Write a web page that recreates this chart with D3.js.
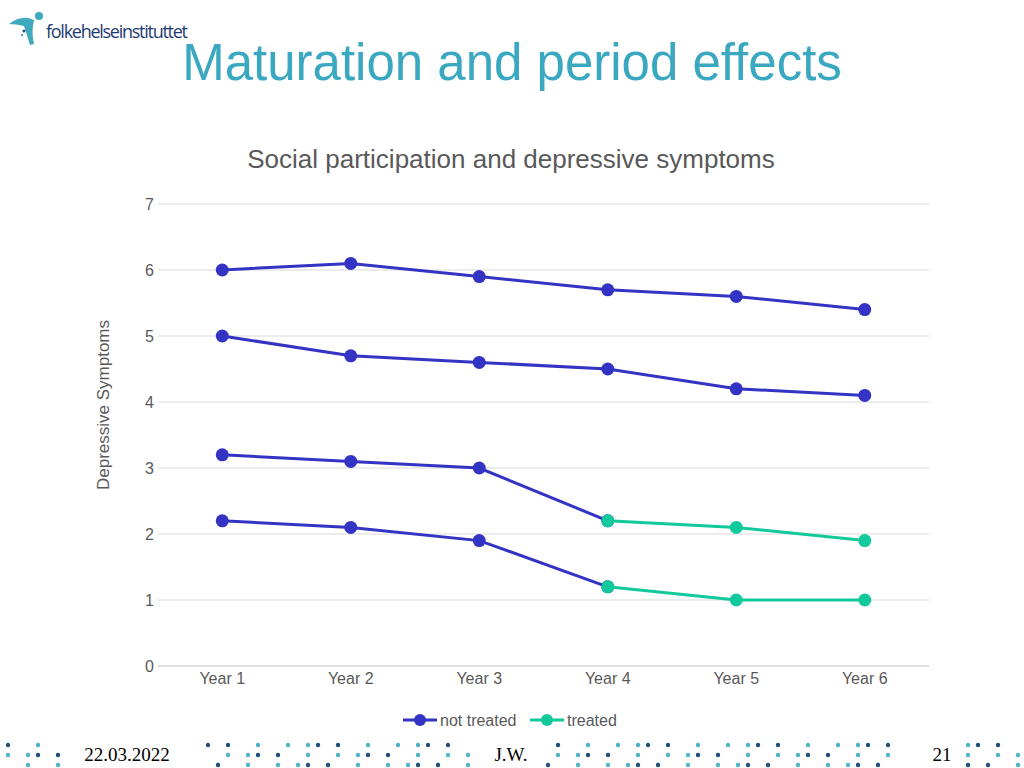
<!DOCTYPE html>
<html><head><meta charset="utf-8">
<script src="https://cdn.jsdelivr.net/npm/d3@7"></script>
<style>body{margin:0;background:#fff}svg{display:block;font-family:"Liberation Sans",Arial,sans-serif}</style>
</head><body>
<svg id="c" width="1024" height="768"></svg>
<script>
const years = ['Year 1', 'Year 2', 'Year 3', 'Year 4', 'Year 5', 'Year 6']
const yTicks = [0, 1, 2, 3, 4, 5, 6, 7]
// null = no value for that year
const notTreated = [
	[6.0, 6.1, 5.9, 5.7, 5.6, 5.4],
	[5.0, 4.7, 4.6, 4.5, 4.2, 4.1],
	[3.2, 3.1, 3.0, 2.2, null, null],
	[2.2, 2.1, 1.9, 1.2, null, null],
]
const treated = [
	[null, null, null, 2.2, 2.1, 1.9],
	[null, null, null, 1.2, 1.0, 1.0],
]
const blue = '#3333c4', green = '#11c99a'

const svg = d3.select('#c')
const x = d3.scaleBand().domain(years).range([158, 929])
const y = d3.scaleLinear().domain([0, 7]).range([666, 204])
const cx = d => x(d) + x.bandwidth() / 2

// logo
const logo = svg.append('g')
logo.append('path').attr('d', 'M9,24 Q22,14 34,20 Q31,32 34,44 L30,45 Q26,32 24,26 Q16,24 9,24Z').attr('fill', '#3fa9bd')
logo.append('circle').attr('cx', 39).attr('cy', 16).attr('r', 4).attr('fill', '#3fa9bd')
logo.append('circle').attr('cx', 24).attr('cy', 31).attr('r', 1.5).attr('fill', '#1f4e79')
logo.append('circle').attr('cx', 22).attr('cy', 35).attr('r', 1.2).attr('fill', '#3fa9bd')
svg.append('text').attr('x', 46).attr('y', 38).attr('font-size', 18).attr('fill', '#1f3b73').attr('font-family', 'Open Sans').attr('textLength', 142).text('folkehelseinstituttet')

svg.append('text').attr('x', 512).attr('y', 80).attr('text-anchor', 'middle').attr('font-size', 51).attr('fill', '#3aa8c1').text('Maturation and period effects')
svg.append('text').attr('x', 511).attr('y', 168).attr('text-anchor', 'middle').attr('font-size', 26).attr('fill', '#595959').text('Social participation and depressive symptoms')

// grid + axes
svg.append('g').selectAll('line').data(yTicks).join('line')
	.attr('x1', 158).attr('x2', 929).attr('y1', d => y(d)).attr('y2', d => y(d))
	.attr('stroke', d => d === 0 ? '#bfbfbf' : '#d9d9d9')
svg.append('g').selectAll('text').data(yTicks).join('text')
	.attr('x', 154).attr('y', d => y(d) + 6).attr('text-anchor', 'end').attr('font-size', 16).attr('fill', '#595959').text(d => d)
svg.append('g').selectAll('text').data(years).join('text')
	.attr('x', cx).attr('y', 684).attr('text-anchor', 'middle').attr('font-size', 16).attr('fill', '#595959').text(d => d)
svg.append('text').attr('transform', 'translate(109,405) rotate(-90)').attr('text-anchor', 'middle').attr('font-size', 17).attr('fill', '#595959').text('Depressive Symptoms')

const line = d3.line().defined(d => d != null).x((d, i) => cx(years[i])).y(d => y(d))
function drawSeries(list, color) {
	list.forEach(vals => {
		svg.append('path').attr('d', line(vals)).attr('fill', 'none').attr('stroke', color).attr('stroke-width', 3)
		svg.append('g').selectAll('circle').data(vals.map((v, i) => [v, i]).filter(p => p[0] != null)).join('circle')
			.attr('cx', p => cx(years[p[1]])).attr('cy', p => y(p[0])).attr('r', 6.5).attr('fill', color)
	})
}
drawSeries(notTreated, blue)
drawSeries(treated, green)

// legend
const lg = svg.append('g').attr('font-size', 16).attr('fill', '#595959')
;[['not treated', blue, 403], ['treated', green, 530]].forEach(([t, c, lx]) => {
	lg.append('line').attr('x1', lx).attr('x2', lx + 34).attr('y1', 720).attr('y2', 720).attr('stroke', c).attr('stroke-width', 3)
	lg.append('circle').attr('cx', lx + 17).attr('cy', 720).attr('r', 6).attr('fill', c)
	lg.append('text').attr('x', lx + 37).attr('y', 726).text(t)
})

// footer dots (decorative)
const dotCols = ['#4fb3c9', '#1f4e79', '#8fd0dc']
const fg = svg.append('g')
const skip = [[60, 200], [475, 545], [905, 960]]
for (let fx = 8; fx < 1024; fx += 10) {
	if (skip.some(s => fx > s[0] && fx < s[1])) continue
	for (let r = 0; r < 3; r++) {
		const h = (fx * 7 + r * 13) % 11
		if (h < 5) fg.append('circle').attr('cx', fx).attr('cy', 745 + r * 10).attr('r', 2.2).attr('fill', dotCols[h % 3 === 1 ? 1 : 0])
	}
}
svg.append('text').attr('x', 127).attr('y', 761).attr('text-anchor', 'middle').attr('font-size', 19).attr('font-family', 'Liberation Serif').text('22.03.2022')
svg.append('text').attr('x', 511).attr('y', 761).attr('text-anchor', 'middle').attr('font-size', 19).attr('font-family', 'Liberation Serif').text('J.W.')
svg.append('text').attr('x', 942).attr('y', 761).attr('text-anchor', 'middle').attr('font-size', 19).attr('font-family', 'Liberation Serif').text('21')
</script>
</body></html>
